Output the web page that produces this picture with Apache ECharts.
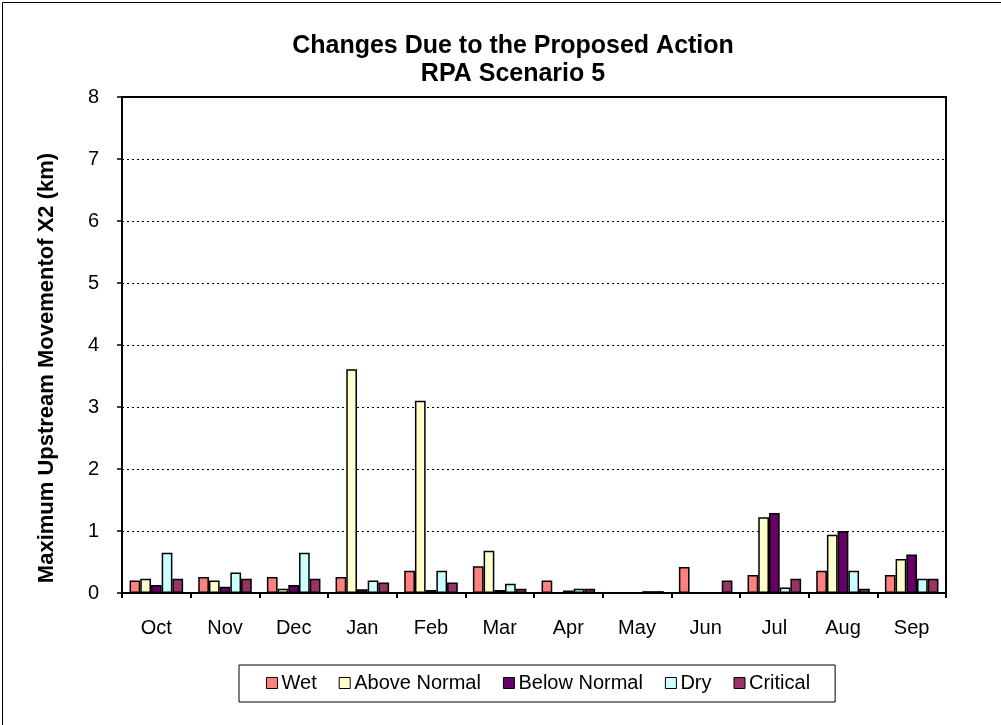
<!DOCTYPE html>
<html>
<head>
<meta charset="utf-8">
<script src="https://cdn.jsdelivr.net/npm/echarts@6/dist/echarts.min.js"></script>
<style>
  html, body { margin: 0; padding: 0; background: #fff; }
  #chart { width: 1001px; height: 725px; }
</style>
</head>
<body>
<div id="chart"></div>
<script>
// Months of the water year
const months = ['Oct', 'Nov', 'Dec', 'Jan', 'Feb', 'Mar', 'Apr', 'May', 'Jun', 'Jul', 'Aug', 'Sep'];

// Maximum upstream movement of X2 (km) by water-year type
const wet         = [0.20, 0.26, 0.26, 0.26, 0.36, 0.43, 0.20, -0.02, 0.42, 0.29, 0.36, 0.29];
const aboveNormal = [0.23, 0.20, 0.07, 3.61, 3.10, 0.68, -0.02, -0.03, -0.03, 1.22, 0.94, 0.55];
const belowNormal = [0.13, 0.10, 0.13, 0.06, 0.05, 0.05, 0.04, -0.03, -0.03, 1.29, 1.00, 0.62];
const dry         = [0.65, 0.33, 0.65, 0.20, 0.36, 0.15, 0.07, 0.03, -0.03, 0.09, 0.36, 0.23];
const critical    = [0.23, 0.23, 0.23, 0.17, 0.17, 0.07, 0.07, 0.03, 0.20, 0.23, 0.07, 0.23];

const seriesNames  = ['Wet', 'Above Normal', 'Below Normal', 'Dry', 'Critical'];
const seriesData   = [wet, aboveNormal, belowNormal, dry, critical];
const seriesColors = ['#FF8080', '#FFFFCC', '#660066', '#CCFFFF', '#993366'];

const FONT = '"Liberation Sans", Arial, sans-serif';

const chart = echarts.init(document.getElementById('chart'), null, { renderer: 'canvas' });

chart.setOption({
  animation: false,
  backgroundColor: '#fff',
  textStyle: { fontFamily: FONT, color: '#000' },
  title: {
    text: 'Changes Due to the Proposed Action\nRPA Scenario 5',
    left: 508,
    top: 27,
    textAlign: 'center',
    textStyle: { fontFamily: FONT, fontSize: 25, fontWeight: 'bold', lineHeight: 28, color: '#000' }
  },
  legend: {
    data: seriesNames,
    left: 239,
    top: 665,
    orient: 'horizontal',
    padding: [8, 25, 9, 27],
    itemGap: 22,
    itemWidth: 11,
    itemHeight: 11,
    borderColor: '#000',
    borderWidth: 1,
    icon: 'rect',
    itemStyle: { borderColor: '#000', borderWidth: 1 },
    textStyle: { fontFamily: FONT, fontSize: 20, color: '#000', padding: [0, 0, 0, -1] }
  },
  grid: {
    left: 122,
    right: 55,
    top: 97,
    bottom: 132,
    show: true,
    borderColor: '#000',
    borderWidth: 2,
    backgroundColor: 'transparent'
  },
  xAxis: {
    type: 'category',
    data: months,
    boundaryGap: true,
    axisLine: { lineStyle: { color: '#000', width: 2 } },
    axisTick: { show: true, length: 5, lineStyle: { color: '#000', width: 2 } },
    axisLabel: { fontFamily: FONT, fontSize: 20, color: '#000', margin: 25 }
  },
  yAxis: {
    type: 'value',
    min: 0,
    max: 8,
    interval: 1,
    axisLine: { show: true, lineStyle: { color: '#000', width: 2 } },
    axisTick: { show: true, length: 5, lineStyle: { color: '#000', width: 1.5 } },
    axisLabel: { fontFamily: FONT, fontSize: 20, color: '#000', margin: 23 },
    splitLine: { show: true, lineStyle: { color: '#000', width: 1, type: [2, 3] } }
  },
  graphic: [
    {
      type: 'rect',
      shape: { x: 2.5, y: 2.5, width: 1200, height: 1000 },
      style: { fill: 'none', stroke: '#000', lineWidth: 1 },
      silent: true
    },
    {
      type: 'text',
      x: 47,
      y: 368,
      rotation: Math.PI / 2,
      style: {
        text: 'Maximum Upstream Movementof X2 (km)',
        fontFamily: FONT,
        fontSize: 22,
        fontWeight: 'bold',
        fill: '#000',
        align: 'center',
        verticalAlign: 'middle'
      },
      silent: true
    }
  ],
  series: seriesNames.map((name, i) => ({
    name: name,
    type: 'bar',
    data: seriesData[i],
    barGap: '0%',
    barCategoryGap: '22%',
    itemStyle: { color: seriesColors[i], borderColor: '#000', borderWidth: 1.5 },
    emphasis: { disabled: true }
  }))
});
</script>
</body>
</html>
